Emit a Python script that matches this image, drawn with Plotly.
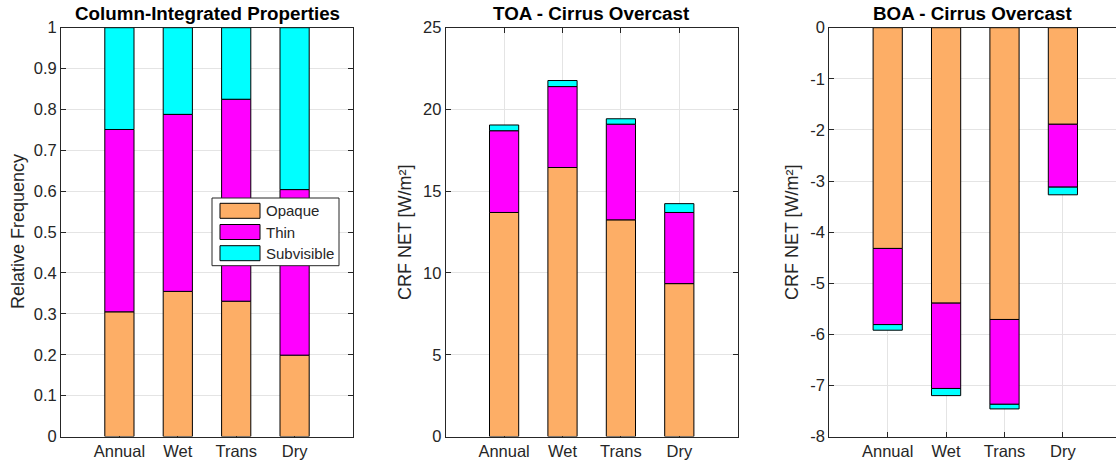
import plotly.graph_objects as go

# ---------------- data ----------------
categories = ["Annual", "Wet", "Trans", "Dry"]
series_names = ["Opaque", "Thin", "Subvisible"]
series_colors = ["#FDAE66", "#FF00FF", "#00FFFF"]

freq_opaque = [0.305, 0.355, 0.331, 0.199]
freq_thin = [0.446, 0.433, 0.494, 0.405]
freq_subvis = [0.249, 0.212, 0.175, 0.396]

toa_opaque = [13.70, 16.45, 13.25, 9.35]
toa_thin = [5.00, 4.95, 5.85, 4.35]
toa_subvis = [0.35, 0.37, 0.33, 0.54]

boa_opaque = [-4.32, -5.39, -5.71, -1.89]
boa_thin = [-1.49, -1.67, -1.66, -1.23]
boa_subvis = [-0.11, -0.14, -0.09, -0.15]

panel_titles = ["Column-Integrated Properties", "TOA - Cirrus Overcast", "BOA - Cirrus Overcast"]
panel_ylabels = ["Relative Frequency", "CRF NET [W/m²]", "CRF NET [W/m²]"]

y1_ticks = [0, 0.1, 0.2, 0.3, 0.4, 0.5, 0.6, 0.7, 0.8, 0.9, 1]
y1_labels = ["0", "0.1", "0.2", "0.3", "0.4", "0.5", "0.6", "0.7", "0.8", "0.9", "1"]
y2_ticks = [0, 5, 10, 15, 20, 25]
y2_labels = ["0", "5", "10", "15", "20", "25"]
y3_ticks = [-8, -7, -6, -5, -4, -3, -2, -1, 0]
y3_labels = ["-8", "-7", "-6", "-5", "-4", "-3", "-2", "-1", "0"]

# ---------------- layout geometry ----------------
W, H = 1116, 469
def fx(p):
    return p / W
def fy(p):
    return 1 - p / H

TOP, BOT = 27.7, 436.5
dom_y = [fy(BOT), fy(TOP)]
dom_x = [[fx(61), fx(353)], [fx(445.7), fx(737.7)], [fx(829.3), 1.0]]
x_ranges = [[0, 5], [0, 5], [0, 5 * (W - 829.3) / 292]]
y_mirror = ["ticks", "ticks", True]

xpos = list(range(1, len(categories) + 1))

AX = "#262626"
GRID = "#e4e4e4"
FONT = "Liberation Sans, Arial, Helvetica, sans-serif"

fig = go.Figure()

panels = [
    ([freq_opaque, freq_thin, freq_subvis], y1_ticks, y1_labels, [0, 1]),
    ([toa_opaque, toa_thin, toa_subvis], y2_ticks, y2_labels, [0, 25]),
    ([boa_opaque, boa_thin, boa_subvis], y3_ticks, y3_labels, [-8, 0]),
]

for i, (series, yt, yl, yr) in enumerate(panels):
    sfx = "" if i == 0 else str(i + 1)
    for name, color, vals in zip(series_names, series_colors, series):
        fig.add_trace(go.Bar(
            x=xpos, y=vals, name=name, width=0.5,
            marker=dict(color=color, line=dict(color="#000000", width=1)),
            xaxis="x" + sfx, yaxis="y" + sfx, showlegend=False,
        ))
    common = dict(showline=True, linecolor=AX, linewidth=1,
                  ticks="inside", ticklen=5, tickcolor=AX, tickwidth=1,
                  showgrid=True, gridcolor=GRID, gridwidth=1, zeroline=False,
                  tickfont=dict(family=FONT, size=16.5, color=AX),
                  layer="below traces", fixedrange=True, automargin=False)
    fig.layout["xaxis" + sfx] = dict(
        domain=dom_x[i], range=x_ranges[i], tickmode="array", mirror="ticks",
        tickvals=xpos, ticktext=categories, anchor="y" + sfx, **common)
    fig.layout["yaxis" + sfx] = dict(
        domain=dom_y, range=yr, tickmode="array", mirror=y_mirror[i],
        tickvals=yt, ticktext=yl, anchor="x" + sfx, **common)

annotations = []
title_centers = [207, 591.7, 972.6]
for i, t in enumerate(panel_titles):
    annotations.append(dict(
        text="<b>%s</b>" % t, x=fx(title_centers[i]), y=fy(13), xref="paper", yref="paper",
        xanchor="center", yanchor="middle", showarrow=False,
        font=dict(family=FONT, size=18.8, color="#000000")))

ylabel_x = [18, 405, 792]
for i, t in enumerate(panel_ylabels):
    annotations.append(dict(
        text=t, x=fx(ylabel_x[i]), y=fy((TOP + BOT) / 2), xref="paper", yref="paper",
        xanchor="center", yanchor="middle", textangle=-90, showarrow=False,
        font=dict(family=FONT, size=18, color=AX)))

# manual legend (MATLAB style wide swatches)
shapes = [dict(type="rect", xref="paper", yref="paper",
               x0=fx(212), x1=fx(339), y0=fy(265.7), y1=fy(198),
               line=dict(color=AX, width=1), fillcolor="white", layer="above")]
row_tops = [203.3, 224.5, 245.7]
for name, color, top in zip(series_names, series_colors, row_tops):
    shapes.append(dict(type="rect", xref="paper", yref="paper",
                       x0=fx(220), x1=fx(260), y0=fy(top + 15), y1=fy(top),
                       line=dict(color="#000000", width=1), fillcolor=color, layer="above"))
    annotations.append(dict(
        text=name, x=fx(264), y=fy(top + 7.5), xref="paper", yref="paper",
        xanchor="left", yanchor="middle", showarrow=False,
        font=dict(family=FONT, size=15, color=AX)))

fig.update_layout(
    width=W, height=H, autosize=False,
    margin=dict(l=0, r=0, t=0, b=0, autoexpand=False),
    barmode="relative", bargap=0,
    plot_bgcolor="white", paper_bgcolor="white",
    annotations=annotations, shapes=shapes,
    font=dict(family=FONT, color=AX),
)

fig.write_html("out.html",
               config={"displayModeBar": False, "staticPlot": True},
               post_script="document.body.style.margin='0';document.body.style.overflow='hidden';")
